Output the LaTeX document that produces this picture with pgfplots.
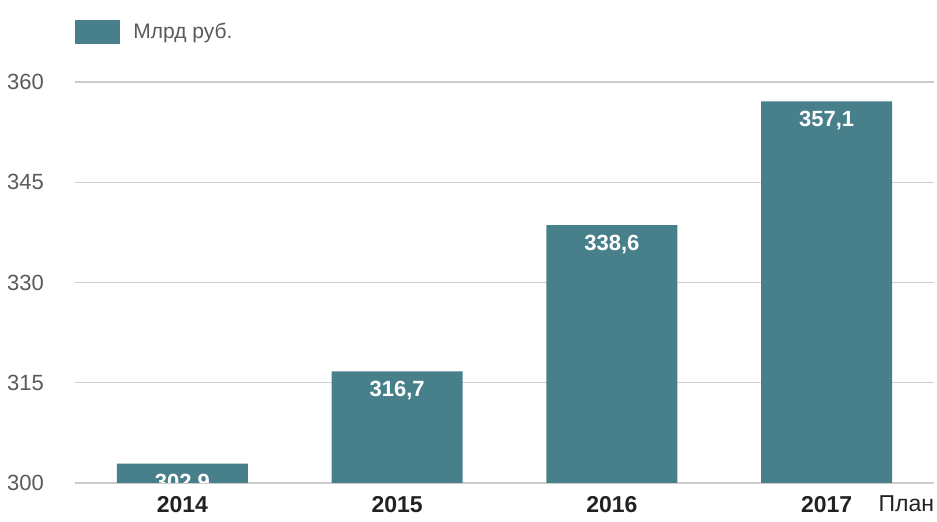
\documentclass[border=0pt]{standalone}
\usepackage{pgfplots}
\pgfplotsset{compat=1.18}
\usepackage{fontspec}
\setmainfont{Liberation Sans}
\definecolor{barc}{HTML}{477F8A}
\definecolor{gridc}{HTML}{CCCCCC}
\definecolor{ytc}{HTML}{5A5A5A}
\definecolor{xtc}{HTML}{222222}
\begin{document}
\begin{tikzpicture}
\path[use as bounding box] (0,0) rectangle (468.5pt,261pt);
\begin{axis}[
  at={(37.5pt,19.5pt)}, anchor=south west,
  scale only axis, width=429.5pt, height=200.5pt,
  xmin=-0.5, xmax=3.5, ymin=300, ymax=360,
  ytick={300,315,330,345,360},
  xtick={0,1,2,3}, xticklabels={2014,2015,2016,2017},
  axis line style={draw=none}, tick style={draw=none},
  ymajorgrids, major grid style={gridc, line width=0.7pt},
  /pgf/number format/assume math mode=true,
  yticklabel style={font=\fontsize{11}{12}\selectfont, text=ytc, anchor=east, xshift=-12pt},
  xticklabel style={font=\fontsize{11.5}{13}\selectfont\bfseries, text=xtc, anchor=base, yshift=-15pt},
  clip mode=individual,
  clip marker paths=true,
  legend style={at={(0,1)}, anchor=south west, yshift=18pt, draw=none, fill=none, inner sep=0pt,
    font=\fontsize{10.5}{12}\selectfont, text=ytc, cells={anchor=west}},
  legend image code/.code={\fill[barc] (0pt,-6pt) rectangle (22.5pt,6pt);},
  legend cell align=left,
]
\addplot[ybar, bar width=65.5pt, fill=barc, draw=none,
  nodes near coords,
  nodes near coords style={anchor=north, yshift=-1.5pt, text=white, font=\fontsize{11}{13}\selectfont\bfseries,
    /pgf/number format/.cd, fixed, fixed zerofill, precision=1, use comma, assume math mode=true},
] coordinates {(0,302.9) (1,316.7) (2,338.6) (3,357.1)};
\addlegendentry{\hspace{4.5pt}Млрд руб.}
\node[anchor=base west, font=\fontsize{11.5}{13}\selectfont, text=xtc, inner sep=0pt] at (rel axis cs:0.935,0) [yshift=-14.5pt] {План};
\end{axis}
\end{tikzpicture}
\end{document}
